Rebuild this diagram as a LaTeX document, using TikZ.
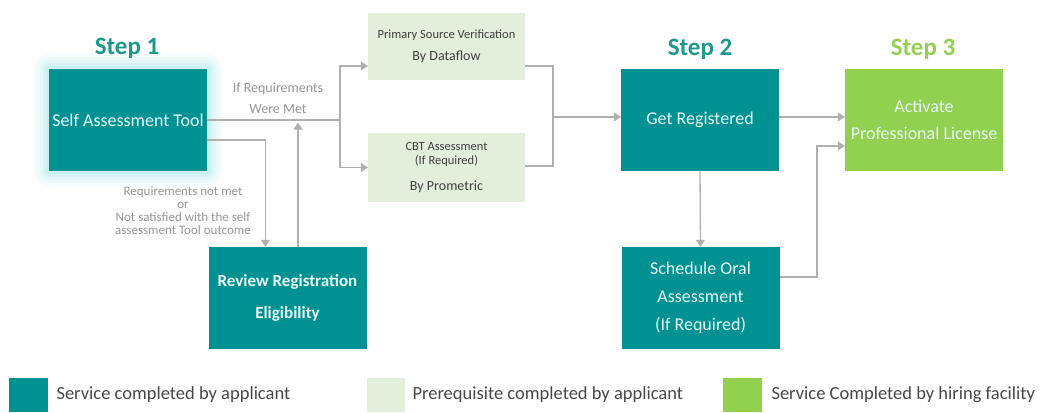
\documentclass[tikz,border=0pt]{standalone}
\usepackage{fontspec}
\setmainfont{Carlito}
\usetikzlibrary{arrows.meta,calc}
\definecolor{tealbox}{RGB}{0,146,146}
\definecolor{tealstep}{RGB}{28,152,140}
\definecolor{greenbox}{RGB}{146,208,80}
\definecolor{lightbox}{RGB}{226,239,218}
\definecolor{boxtext}{RGB}{232,250,250}
\definecolor{linegray}{RGB}{176,176,176}
\definecolor{labelgray}{RGB}{150,150,150}
\definecolor{glowc}{RGB}{170,230,232}
\tikzset{
  svc/.style={fill=tealbox, draw=none, minimum width=158pt, minimum height=102pt, inner sep=0pt,
    text=boxtext, align=center, font=\fontsize{18}{27}\selectfont},
  hire/.style={svc, fill=greenbox},
  prereq/.style={fill=lightbox, draw=none, minimum width=157pt, inner sep=0pt, text=black!75, align=center,
    font=\fontsize{12.5}{14}\selectfont},
  steplabel/.style={font=\fontsize{25}{28}\selectfont\bfseries},
  conn/.style={draw=linegray, line width=1.3pt},
  arr/.style={conn, -{Triangle[width=9pt,length=7pt]}},
  glabel/.style={text=labelgray, align=center},
  legtext/.style={anchor=west, text=black!72, font=\fontsize{18.5}{20}\selectfont},
}
\begin{document}
\begin{tikzpicture}[x=1pt,y=-1pt]
\useasboundingbox (0,0) rectangle (1043,412);
% glow around self assessment box
\foreach \g/\o in {15/0.10,12/0.12,9/0.15,6/0.2,3/0.3}{
  \fill[glowc, opacity=\o, rounded corners=\g pt] (49-\g,69-\g) rectangle (207+\g,171+\g);
}
% step labels
\node[steplabel, text=tealstep] (s1) at (127,48) {Step 1};
\node[steplabel, text=tealstep] (s2) at (700,49) {Step 2};
\node[steplabel, text=greenbox] (s3) at (923,49) {Step 3};
% boxes
\node[svc] (sat) at (128,120) {Self Assessment Tool};
\node[svc, font=\fontsize{17}{32}\selectfont\bfseries] (review) at (287.5,298) {Review Registration\\Eligibility};
\node[prereq, minimum height=67pt] (psv) at (446.5,46.5) {Primary Source Verification\\[8pt]{\fontsize{14}{16}\selectfont By Dataflow}};
\node[prereq, minimum height=69pt] (cbt) at (446.5,167.5) {CBT Assessment\\(If Required)\\[12pt]{\fontsize{14}{16}\selectfont By Prometric}};
\node[svc] (getreg) at (700,120) {Get Registered};
\node[hire] (act) at (924,120) {Activate\\Professional License};
\node[svc, font=\fontsize{18}{28}\selectfont] (sched) at (700.5,298) {Schedule Oral\\Assessment\\(If Required)};
% labels
\node[glabel, font=\fontsize{14}{21}\selectfont] (ifmet) at (278,98) {If Requirements\\Were Met};
\node[glabel, font=\fontsize{13}{13}\selectfont] (notmet) at (183,211) {Requirements not met\\or\\Not satisfied with the self\\assessment Tool outcome};
% connectors
\coordinate (b1) at (340,120);
\draw[conn] (sat.east) -- (b1);
\draw[arr] (b1) |- ($(psv.west)+(0,19.5)$);
\draw[arr] (b1) |- (cbt.west);
\coordinate (m1) at (553,117);
\draw[conn] ($(psv.east)+(0,19.5)$) -| (m1);
\draw[conn] ($(cbt.east)+(0,-1.5)$) -| (m1);
\draw[arr] (m1) -- ($(getreg.west)+(0,-3)$);
\draw[arr] ($(getreg.east)+(0,-3)$) -- ($(act.west)+(0,-3)$);
\draw[arr] ($(sat.east)+(0,20)$) -| ($(review.north west)+(57,0)$);
\draw[arr] ($(review.north)+(10.5,0)$) -- (298,122.5);
\draw[arr] (getreg.south) -- (sched.north);
\coordinate (r1) at (817,146);
\draw[arr] ($(sched.east)+(0,-21)$) -| (r1) -- ($(act.west)+(0,26)$);
% legend
\fill[tealbox] (9,378) rectangle (48,412);
\node[legtext] (l1) at (53,395) {Service completed by applicant};
\fill[lightbox] (367,378) rectangle (405,412);
\node[legtext] (l2) at (409,395) {Prerequisite completed by applicant};
\fill[greenbox] (723,378) rectangle (762,412);
\node[legtext] (l3) at (768,395) {Service Completed by hiring facility};
\end{tikzpicture}
\end{document}
